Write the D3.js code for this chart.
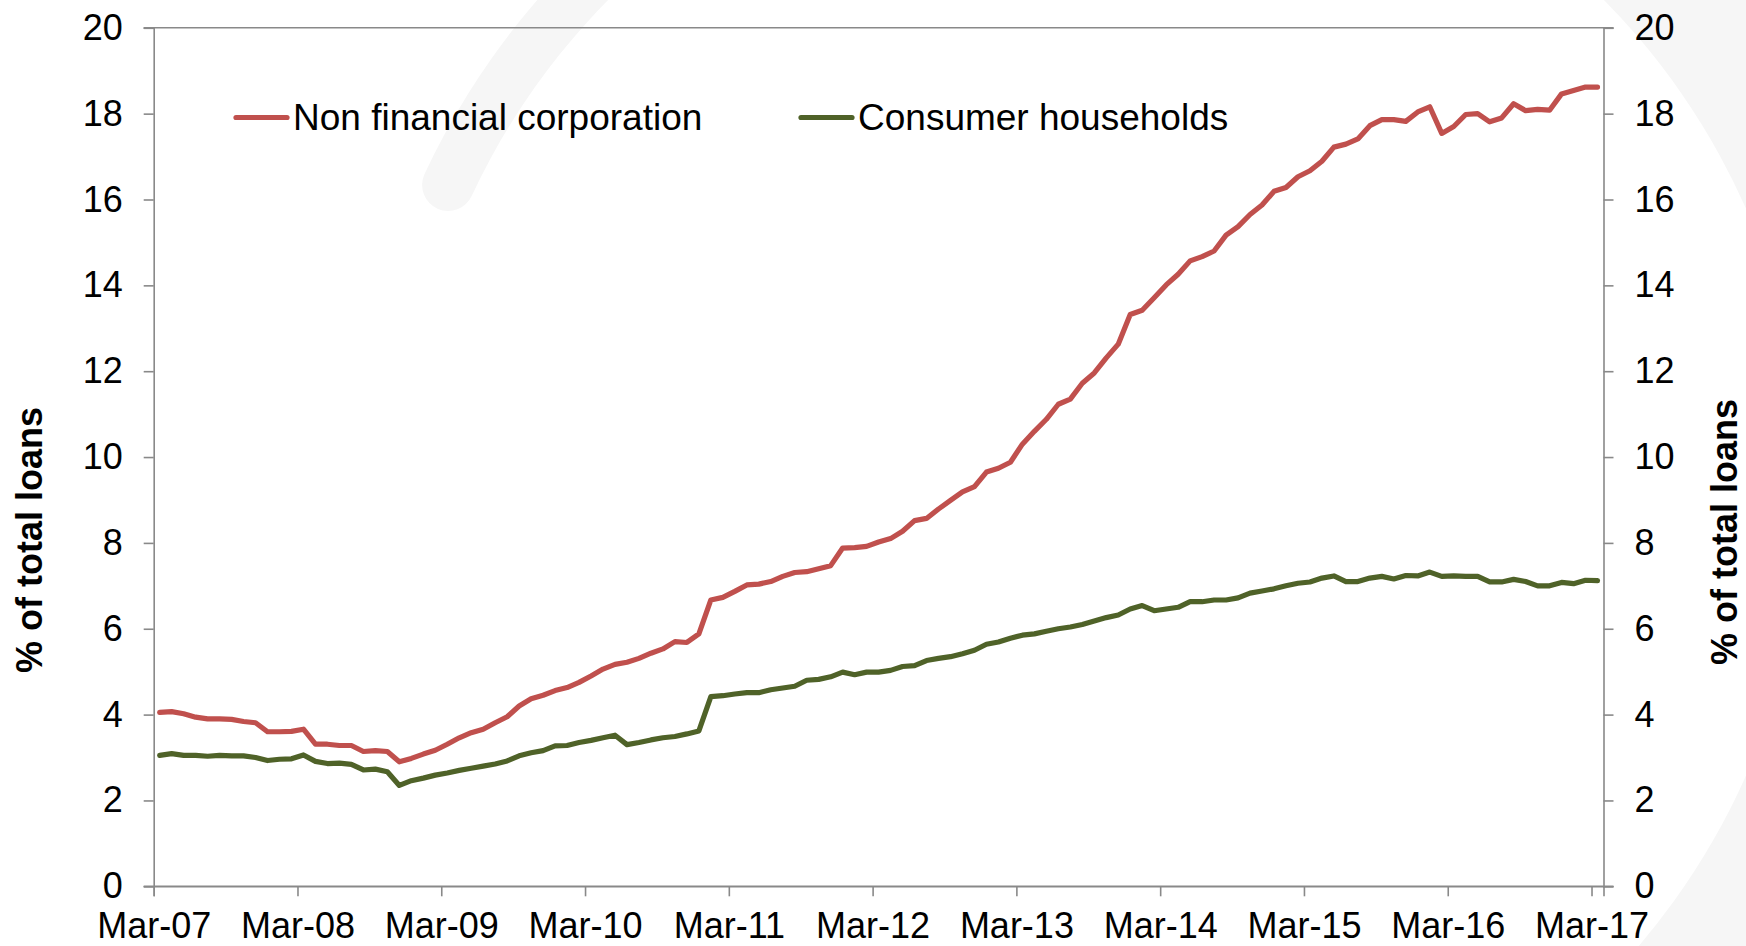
<!DOCTYPE html>
<html>
<head>
<meta charset="utf-8">
<script src="https://cdn.jsdelivr.net/npm/d3@7"></script>
<style>
  html, body { margin: 0; padding: 0; background: #ffffff; }
  svg { display: block; }
  text { font-family: "Liberation Sans", Arial, sans-serif; fill: #000; }
</style>
</head>
<body>
<svg id="chart" width="1746" height="946"></svg>
<script>
// ---- Data (monthly, Mar-07 .. Mar-17) ----
const seriesNames = ["Non financial corporation", "Consumer households"];
const seriesColors = ["#C0504D", "#4F6228"];

const nonFinancial = [
  4.05, 4.07, 4.02, 3.94, 3.90, 3.90, 3.89, 3.84, 3.81, 3.60,
  3.60, 3.61, 3.66, 3.31, 3.31, 3.28, 3.28, 3.14, 3.16, 3.14,
  2.90, 2.98, 3.08, 3.17, 3.31, 3.46, 3.58, 3.66, 3.81, 3.95,
  4.20, 4.37, 4.45, 4.56, 4.63, 4.75, 4.90, 5.06, 5.17, 5.22,
  5.31, 5.43, 5.53, 5.70, 5.68, 5.88, 6.67, 6.73, 6.87, 7.02,
  7.04, 7.10, 7.22, 7.31, 7.33, 7.40, 7.47, 7.88, 7.89, 7.92,
  8.02, 8.10, 8.27, 8.52, 8.57, 8.79, 8.99, 9.19, 9.31, 9.65,
  9.74, 9.88, 10.30, 10.60, 10.88, 11.23, 11.35, 11.72, 11.96, 12.31,
  12.63, 13.32, 13.42, 13.71, 14.01, 14.26, 14.57, 14.67, 14.80, 15.17,
  15.37, 15.65, 15.87, 16.19, 16.28, 16.53, 16.67, 16.89, 17.22, 17.29,
  17.41, 17.72, 17.86, 17.86, 17.82, 18.04, 18.16, 17.54, 17.70, 17.98,
  18.00, 17.81, 17.90, 18.23, 18.07, 18.10, 18.08, 18.46, 18.54, 18.62,
  18.62
];

const consumerHouseholds = [
  3.05, 3.09, 3.05, 3.05, 3.03, 3.05, 3.04, 3.04, 3.00, 2.93,
  2.96, 2.97, 3.06, 2.91, 2.86, 2.87, 2.84, 2.71, 2.73, 2.67,
  2.35, 2.46, 2.52, 2.59, 2.64, 2.70, 2.75, 2.80, 2.85, 2.92,
  3.04, 3.11, 3.16, 3.27, 3.28, 3.35, 3.40, 3.46, 3.52, 3.30,
  3.35, 3.41, 3.46, 3.49, 3.55, 3.62, 4.42, 4.44, 4.48, 4.51,
  4.51, 4.58, 4.62, 4.66, 4.80, 4.82, 4.88, 4.99, 4.93, 4.99,
  4.99, 5.03, 5.12, 5.14, 5.26, 5.31, 5.35, 5.42, 5.50, 5.64,
  5.69, 5.78, 5.85, 5.88, 5.94, 6.00, 6.04, 6.10, 6.18, 6.26,
  6.32, 6.46, 6.54, 6.42, 6.46, 6.50, 6.63, 6.63, 6.67, 6.67,
  6.72, 6.83, 6.88, 6.93, 7.00, 7.06, 7.09, 7.18, 7.23, 7.10,
  7.10, 7.18, 7.22, 7.16, 7.24, 7.23, 7.32, 7.22, 7.23, 7.22,
  7.22, 7.09, 7.09, 7.15, 7.10, 7.00, 7.00, 7.08, 7.05, 7.13,
  7.12
];

const xTickLabels = ["Mar-07", "Mar-08", "Mar-09", "Mar-10", "Mar-11", "Mar-12",
                     "Mar-13", "Mar-14", "Mar-15", "Mar-16", "Mar-17"];
const yTicks = [0, 2, 4, 6, 8, 10, 12, 14, 16, 18, 20];
const axisTitle = "% of total loans";

// ---- Layout ----
const svg = d3.select("#chart");
const L = 153.7, R = 1603.5, T = 27.8, B = 886.3;
const N = nonFinancial.length;           // 121 months
const axisColor = "#898989";

// faint decorative swoosh in the background
const cx = 1106, cy = 492;
const swoosh = d3.arc()
  .innerRadius(700).outerRadius(752)
  .startAngle(-1.17).endAngle(0.82)
  .cornerRadius(26);
svg.append("path")
  .attr("transform", `translate(${cx},${cy})`)
  .attr("d", swoosh())
  .attr("fill", "#f6f6f6");
const wide = d3.arc()
  .innerRadius(700).outerRadius(1150)
  .startAngle(0.76).endAngle(2.4);
svg.append("path")
  .attr("transform", `translate(${cx},${cy})`)
  .attr("d", wide())
  .attr("fill", "#f6f6f6");

const x = d3.scaleLinear().domain([0, N]).range([L, R]);
const y = d3.scaleLinear().domain([0, 20]).range([B, T]);

// top border
svg.append("line").attr("x1", L - 10).attr("x2", R + 10).attr("y1", T).attr("y2", T)
  .attr("stroke", axisColor).attr("stroke-width", 1.6);

// left axis
const leftAxis = svg.append("g").attr("transform", `translate(${L},0)`)
  .call(d3.axisLeft(y).tickValues(yTicks).tickSize(10).tickPadding(21).tickFormat(d3.format("d")));
// right axis
const rightAxis = svg.append("g").attr("transform", `translate(${R},0)`)
  .call(d3.axisRight(y).tickValues(yTicks).tickSize(10).tickPadding(21).tickFormat(d3.format("d")));
// bottom axis (ticks every 12 months at category boundaries)
const tickIdx = xTickLabels.map((d, i) => i * 12);
const bottomAxis = svg.append("g").attr("transform", `translate(0,${B})`)
  .call(d3.axisBottom(x).tickValues(tickIdx).tickSize(10).tickPadding(16)
    .tickFormat((d, i) => xTickLabels[i]));
svg.append("line").attr("x1", L - 10).attr("x2", R + 10).attr("y1", B).attr("y2", B)
  .attr("stroke", axisColor).attr("stroke-width", 1.6);

[leftAxis, rightAxis, bottomAxis].forEach(g => {
  g.selectAll(".domain").attr("stroke", axisColor).attr("stroke-width", 1.6);
  g.selectAll(".tick line").attr("stroke", axisColor).attr("stroke-width", 1.6);
  g.selectAll(".tick text").attr("font-family", '"Liberation Sans", Arial, sans-serif')
    .attr("fill", "#000");
});
leftAxis.selectAll(".tick text").attr("font-size", 36);
rightAxis.selectAll(".tick text").attr("font-size", 36);
bottomAxis.selectAll(".tick text").attr("font-size", 36);

// lines
const line = d3.line().x((d, i) => x(i + 0.5)).y(d => y(d)).curve(d3.curveLinear);
[nonFinancial, consumerHouseholds].forEach((s, k) => {
  svg.append("path").datum(s)
    .attr("d", line)
    .attr("fill", "none")
    .attr("stroke", seriesColors[k])
    .attr("stroke-width", 5.2)
    .attr("stroke-linejoin", "round")
    .attr("stroke-linecap", "round");
});

// legend
const legendItems = [{x0: 236, x1: 287, tx: 293}, {x0: 801, x1: 852, tx: 858}];
legendItems.forEach((p, k) => {
  svg.append("line").attr("x1", p.x0).attr("x2", p.x1).attr("y1", 117.5).attr("y2", 117.5)
    .attr("stroke", seriesColors[k]).attr("stroke-width", 5.2).attr("stroke-linecap", "round");
  svg.append("text").attr("x", p.tx).attr("y", 130).attr("font-size", 37)
    .text(seriesNames[k]);
});

// axis titles
svg.append("text")
  .attr("transform", "translate(42,540) rotate(-90)")
  .attr("text-anchor", "middle").attr("font-size", 36).attr("font-weight", "bold")
  .text(axisTitle);
svg.append("text")
  .attr("transform", "translate(1737,532) rotate(-90)")
  .attr("text-anchor", "middle").attr("font-size", 36).attr("font-weight", "bold")
  .text(axisTitle);
</script>
</body>
</html>
